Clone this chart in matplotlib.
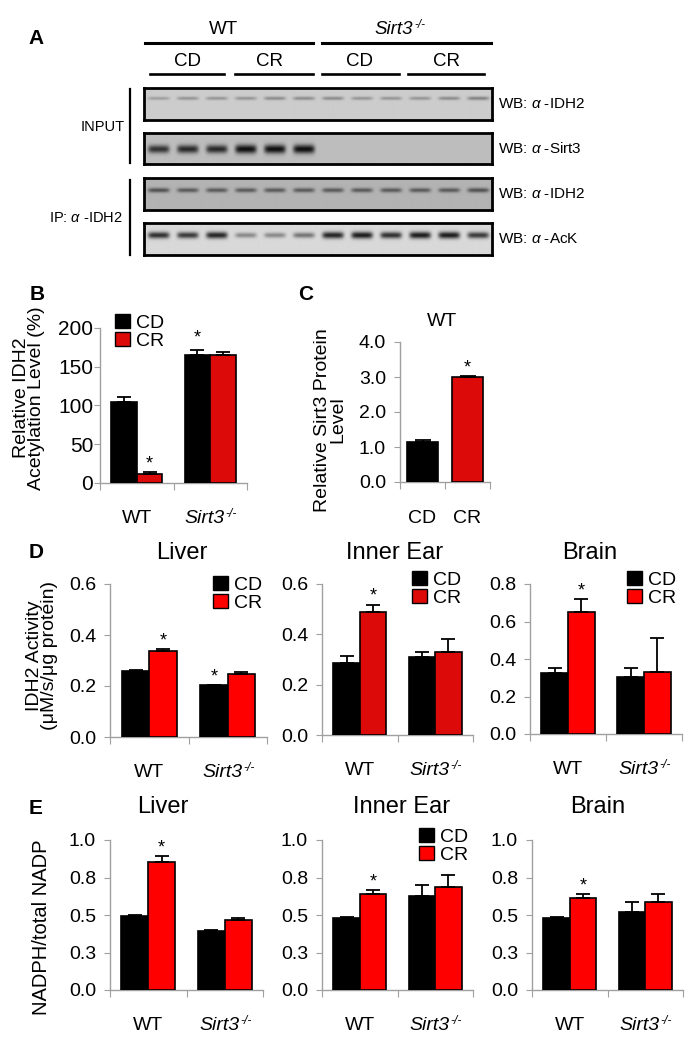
import matplotlib
matplotlib.use('Agg')
import matplotlib.pyplot as plt
import numpy as np
from matplotlib.patches import Patch

plt.rcParams['font.family'] = ['Liberation Sans', 'DejaVu Sans']
plt.rcParams['mathtext.fontset'] = 'custom'
plt.rcParams['mathtext.rm'] = 'Liberation Sans'
plt.rcParams['mathtext.it'] = 'Liberation Sans:italic'

# ---- data ----
group_labels = ['WT', 'Sirt3']   # second group is Sirt3-/- (superscript added when drawn)
knockout_sup = '-/-'
diet_labels = ['CD', 'CR']

# A: western blot band strength per lane (WT CD x3, WT CR x3, Sirt3 CD x3, Sirt3 CR x3)
blot_names = [r'WB: $\alpha$ -IDH2', r'WB: $\alpha$ -Sirt3', r'WB: $\alpha$ -IDH2', r'WB: $\alpha$ -AcK']
input_idh2 = [0.25, 0.3, 0.3, 0.3, 0.35, 0.35, 0.35, 0.3, 0.3, 0.3, 0.35, 0.4]
input_sirt3 = [0.8, 0.85, 0.85, 1.0, 1.0, 1.0, 0, 0, 0, 0, 0, 0]
ip_idh2 = [0.6, 0.55, 0.55, 0.55, 0.55, 0.55, 0.55, 0.55, 0.55, 0.55, 0.55, 0.6]
ip_ack = [0.85, 0.8, 0.9, 0.4, 0.4, 0.5, 0.9, 0.95, 0.85, 0.95, 0.95, 0.8]

# B: relative IDH2 acetylation (%)
acet_cd = [104, 165]
acet_cd_err = [7, 7]
acet_cr = [11, 165]
acet_cr_err = [3, 4]

# C: relative Sirt3 protein level (WT)
sirt3_level = [1.15, 2.99]
sirt3_err = [0.05, 0.04]

# D: IDH2 activity
idh2_liver_cd, idh2_liver_cd_err = [0.257, 0.204], [0.005, 0.0]
idh2_liver_cr, idh2_liver_cr_err = [0.336, 0.246], [0.009, 0.008]
idh2_ear_cd, idh2_ear_cd_err = [0.286, 0.309], [0.029, 0.022]
idh2_ear_cr, idh2_ear_cr_err = [0.487, 0.330], [0.031, 0.051]
idh2_brain_cd, idh2_brain_cd_err = [0.323, 0.303], [0.030, 0.050]
idh2_brain_cr, idh2_brain_cr_err = [0.652, 0.332], [0.068, 0.179]

# E: NADPH / total NADP
nadp_liver_cd, nadp_liver_cd_err = [0.494, 0.392], [0.006, 0.011]
nadp_liver_cr, nadp_liver_cr_err = [0.856, 0.466], [0.038, 0.011]
nadp_ear_cd, nadp_ear_cd_err = [0.483, 0.627], [0.007, 0.073]
nadp_ear_cr, nadp_ear_cr_err = [0.641, 0.690], [0.026, 0.075]
nadp_brain_cd, nadp_brain_cd_err = [0.483, 0.519], [0.007, 0.069]
nadp_brain_cr, nadp_brain_cr_err = [0.616, 0.590], [0.023, 0.051]

ticks_06 = [0, 0.2, 0.4, 0.6]
ticks_08 = [0, 0.2, 0.4, 0.6, 0.8]
ticks_e = [0, 0.25, 0.5, 0.75, 1.0]
ticklabels_e = ['0.0', '0.3', '0.5', '0.8', '1.0']

W, H = 691, 1050
RED = '#ff0000'
DARKRED = '#dd0a0a'
GRAY = '#a0a0a0'

fig = plt.figure(figsize=(W/100, H/100), dpi=100)


def px_axes(x0, y0, x1, y1):
    return fig.add_axes([x0/W, 1 - y1/H, (x1-x0)/W, (y1-y0)/H])


def knockout_text(ax, xy, xycoords, xytext, fontsize):
    # italic "Sirt3" followed by small raised "-/-"
    t = ax.annotate(group_labels[1], xy=xy, xycoords=xycoords, xytext=xytext,
                    textcoords='offset points', ha='center', va='center',
                    fontsize=fontsize, fontstyle='italic')
    ax.annotate(knockout_sup, xy=(1, 0.78), xycoords=t, xytext=(0.5, 0),
                textcoords='offset points', ha='left', va='center',
                fontsize=fontsize*0.62, fontstyle='italic')
    return t


def blot(rect, strength, bg, yc, sy0):
    ax = px_axes(*rect)
    yy = np.linspace(0, 1, 64)[:, None]
    xx = np.linspace(0, 12, 700)[None, :]
    img = np.full((64, 700), bg)
    for i, v in enumerate(strength):
        if v <= 0:
            continue
        sy = sy0*(0.6 + 0.5*v)
        prof = v*np.exp(-((yy - yc)/sy)**2)*np.exp(-((xx - (i + 0.5))/0.37)**6)
        img = img*(1 - 0.92*prof)
    ax.imshow(img, cmap='gray', vmin=0, vmax=1, extent=[0, 12, 1, 0],
              aspect='auto', interpolation='bilinear')
    ax.set_xticks([])
    ax.set_yticks([])
    for s in ax.spines.values():
        s.set_linewidth(2)
        s.set_color('black')
    return ax


def style_axes(ax, ymax, yticks, yticklabels, fmt, tick_fs, ypad):
    ax.set_xlim(0, 2)
    ax.set_ylim(0, ymax)
    ax.set_yticks(yticks)
    if yticklabels is None:
        yticklabels = [fmt % t for t in yticks]
    ax.set_yticklabels(yticklabels)
    for s in ['top', 'right']:
        ax.spines[s].set_visible(False)
    for s in ['left', 'bottom']:
        ax.spines[s].set_color(GRAY)
        ax.spines[s].set_linewidth(1)
        ax.spines[s].set_zorder(1)
    ax.tick_params(axis='y', colors=GRAY, labelcolor='black', length=4,
                   labelsize=tick_fs, pad=ypad)
    ax.set_xticks([0, 1, 2])
    ax.set_xticklabels([])
    ax.tick_params(axis='x', which='major', colors=GRAY, length=5)


def category_labels(ax, labels, drop=25.5):
    for xg, lab in zip([0.5, 1.5], labels):
        if lab == group_labels[1]:
            knockout_text(ax, (xg, 0), ('data', 'axes fraction'), (-4, -drop), 14)
        else:
            ax.annotate(lab, xy=(xg, 0), xycoords=('data', 'axes fraction'),
                        xytext=(0, -drop), textcoords='offset points',
                        ha='center', va='center', fontsize=14)


def bar_panel(rect, cd, cd_err, cr, cr_err, ymax, yticks, cr_color,
              yticklabels=None, fmt='%.1f', tick_fs=14, ypad=5):
    ax = px_axes(*rect)
    x = np.arange(len(cd)) + 0.5
    w = 0.35
    ax.bar(x - w/2, cd, w, color='black', edgecolor='black', linewidth=1.2, zorder=2)
    ax.bar(x + w/2, cr, w, color=cr_color, edgecolor='black', linewidth=1.2, zorder=2)
    ax.errorbar(x - w/2, cd, yerr=[np.zeros(len(cd)), cd_err], fmt='none',
                ecolor='black', elinewidth=1.3, capsize=5, capthick=1.3, zorder=3)
    ax.errorbar(x + w/2, cr, yerr=[np.zeros(len(cr)), cr_err], fmt='none',
                ecolor='black', elinewidth=1.3, capsize=5, capthick=1.3, zorder=3)
    style_axes(ax, ymax, yticks, yticklabels, fmt, tick_fs, ypad)
    category_labels(ax, group_labels)
    return ax, x, w


def stars(ax, xs, tops, flags):
    for xi, t, f in zip(xs, tops, flags):
        if f:
            ax.annotate('*', (xi, t), xytext=(0, 6), textcoords='offset points',
                        ha='center', va='center', fontsize=13)


def legend(ax, rect, px, py, cr_color):
    x0, y0, x1, y1 = rect
    handles = [Patch(facecolor='black', edgecolor='black'),
               Patch(facecolor=cr_color, edgecolor='black')]
    ax.legend(handles, diet_labels, loc='upper left',
              bbox_to_anchor=((px - x0)/(x1 - x0), (y1 - py)/(y1 - y0)),
              frameon=False, fontsize=14, handlelength=0.75, handleheight=0.75,
              handletextpad=0.35, labelspacing=0.0, borderpad=0, borderaxespad=0)


# ---- overlay for panel A text / lines and panel letters ----
ov = fig.add_axes([0, 0, 1, 1])
ov.set_xlim(0, W)
ov.set_ylim(H, 0)
ov.axis('off')

for letter, (lx, ly) in zip('ABCDE', [(36, 39), (37, 295), (306, 295), (36, 552), (36, 808)]):
    ov.text(lx, ly, letter, fontsize=15, fontweight='bold', ha='center', va='center')

ov.text(223, 30, 'WT', fontsize=13.5, ha='center', va='center')
knockout_text(ov, (394, 30), 'data', (0, 0), 13.5)
ov.plot([145, 313], [43, 43], color='black', lw=2.2)
ov.plot([322, 491], [43, 43], color='black', lw=2.2)
for cx, x0, x1, lab in [(188, 150, 224, 'CD'), (270, 235, 313, 'CR'),
                        (360, 322, 399, 'CD'), (447, 408, 484, 'CR')]:
    ov.text(cx, 61, lab, fontsize=13.5, ha='center', va='center')
    ov.plot([x0, x1], [74, 74], color='black', lw=1.9)

ov.plot([130, 130], [89, 163], color='black', lw=1.6)
ov.plot([130, 130], [180, 255], color='black', lw=1.6)
ov.text(125, 127, 'INPUT', fontsize=10.5, ha='right', va='center')
ov.text(123, 218, r'IP: $\alpha$ -IDH2', fontsize=10.5, ha='right', va='center')

# ---- A: blots ----
blot_rects = [(144, 88, 492, 120), (144, 133, 492, 164), (144, 178, 492, 210), (144, 223, 492, 255)]
blot_data = [input_idh2, input_sirt3, ip_idh2, ip_ack]
blot_bg = [0.80, 0.74, 0.70, 0.85]
blot_yc = [0.32, 0.52, 0.38, 0.38]
blot_sy = [0.07, 0.13, 0.08, 0.1]
for r, d, bg, yc, sy, name in zip(blot_rects, blot_data, blot_bg, blot_yc, blot_sy, blot_names):
    blot(r, d, bg, yc, sy)
    ov.text(498, (r[1] + r[3])/2, name, fontsize=11, ha='left', va='center')

# ---- B ----
rB = (100, 328, 247, 483)
ax, x, w = bar_panel(rB, acet_cd, acet_cd_err, acet_cr, acet_cr_err, 200,
                     [0, 50, 100, 150, 200], DARKRED, fmt='%d', tick_fs=15, ypad=1)
stars(ax, x - w/2, np.add(acet_cd, acet_cd_err) + 5, [False, True])
stars(ax, x + w/2, np.add(acet_cr, acet_cr_err), [True, False])
legend(ax, rB, 115, 314, DARKRED)
ov.text(29, 398, 'Relative IDH2\nAcetylation Level (%)', fontsize=14, rotation=90,
        ha='center', va='center', multialignment='center', linespacing=0.9)

# ---- C ----
rC = (400, 342, 490, 482)
axc = px_axes(*rC)
xc = np.arange(2) + 0.5
axc.bar(xc, sirt3_level, 0.7, color=['black', DARKRED], edgecolor='black', linewidth=1.2, zorder=2)
axc.errorbar(xc, sirt3_level, yerr=[np.zeros(2), sirt3_err], fmt='none', ecolor='black',
             elinewidth=1.3, capsize=6, capthick=1.3, zorder=3)
style_axes(axc, 4, [0, 1, 2, 3, 4], None, '%.1f', 14, 6)
category_labels(axc, diet_labels, drop=26)
stars(axc, xc, np.add(sirt3_level, sirt3_err), [False, True])
ov.text(442, 322, 'WT', fontsize=14, ha='center', va='center')
ov.text(330, 420, 'Relative Sirt3 Protein\nLevel', fontsize=14, rotation=90,
        ha='center', va='center', multialignment='center', linespacing=0.9)

# ---- D ----
d_panels = [
    ((110, 584, 267, 737), idh2_liver_cd, idh2_liver_cd_err, idh2_liver_cr, idh2_liver_cr_err,
     0.6, ticks_06, RED, [False, True], (213, 576), 'Liver', 182),
    ((322, 584, 473, 735), idh2_ear_cd, idh2_ear_cd_err, idh2_ear_cr, idh2_ear_cr_err,
     0.6, ticks_06, DARKRED, [False, False], (412, 571), 'Inner Ear', 395),
    ((530, 584, 682, 734), idh2_brain_cd, idh2_brain_cd_err, idh2_brain_cr, idh2_brain_cr_err,
     0.8, ticks_08, RED, [False, False], (627, 571), 'Brain', 590),
]
for rect, cd, cde, cr, cre, ymax, yt, col, scd, lpos, title, tx in d_panels:
    ax, x, w = bar_panel(rect, cd, cde, cr, cre, ymax, yt, col, tick_fs=14, ypad=6)
    stars(ax, x - w/2, np.add(cd, cde), scd)
    stars(ax, x + w/2, np.add(cr, cre), [True, False])
    legend(ax, rect, lpos[0], lpos[1], col)
    ov.text(tx, 553, title, fontsize=17, ha='center', va='center')
ov.text(42, 656, 'IDH2 Activity\n(\u03bcM/s/\u03bcg protein)', fontsize=14, rotation=90,
        ha='center', va='center', multialignment='center', linespacing=0.9)

# ---- E ----
e_panels = [
    ((110, 840, 263, 990), nadp_liver_cd, nadp_liver_cd_err, nadp_liver_cr, nadp_liver_cr_err,
     False, 'Liver', 163),
    ((322, 840, 473, 990), nadp_ear_cd, nadp_ear_cd_err, nadp_ear_cr, nadp_ear_cr_err,
     True, 'Inner Ear', 402),
    ((532, 840, 683, 990), nadp_brain_cd, nadp_brain_cd_err, nadp_brain_cr, nadp_brain_cr_err,
     False, 'Brain', 598),
]
for rect, cd, cde, cr, cre, has_leg, title, tx in e_panels:
    ax, x, w = bar_panel(rect, cd, cde, cr, cre, 1.0, ticks_e, RED,
                         yticklabels=ticklabels_e, tick_fs=14, ypad=6)
    stars(ax, x + w/2, np.add(cr, cre), [True, False])
    if has_leg:
        legend(ax, rect, 419, 828, RED)
    ov.text(tx, 807, title, fontsize=17, ha='center', va='center')
ov.text(42, 927, 'NADPH/total NADP', fontsize=14.5, rotation=90, ha='center', va='center')

fig.savefig('out.png', dpi=100)
